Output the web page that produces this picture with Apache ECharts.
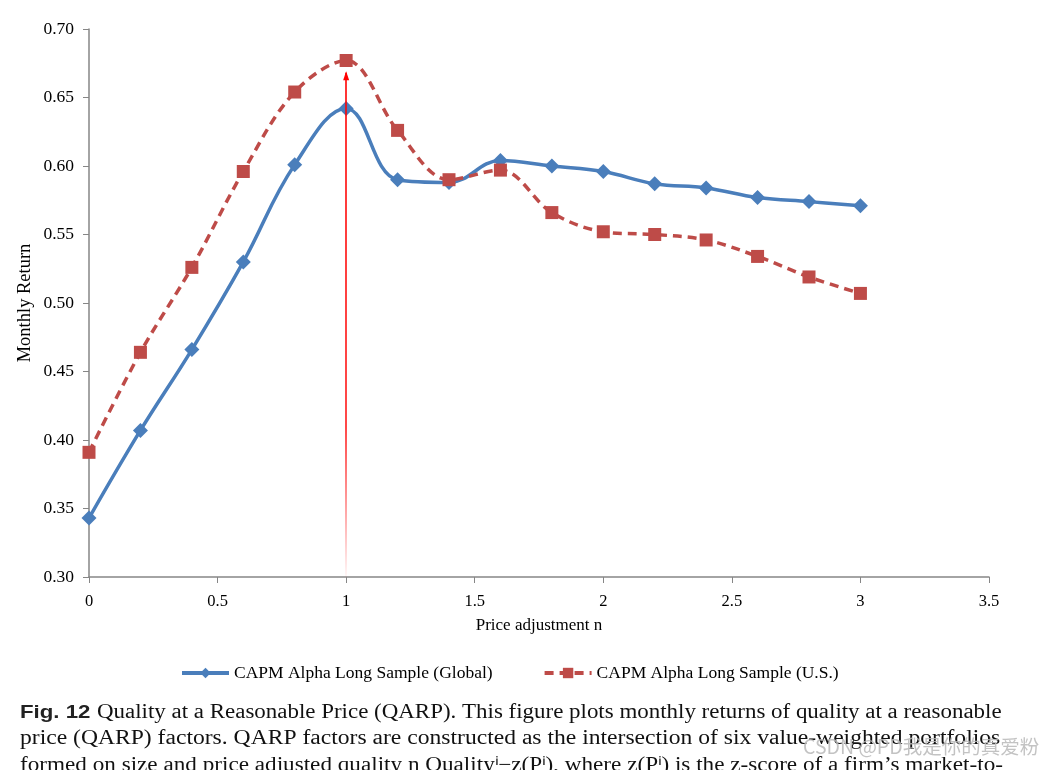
<!DOCTYPE html>
<html>
<head>
<meta charset="utf-8">
<script src="https://cdn.jsdelivr.net/npm/echarts@6/dist/echarts.min.js"></script>
<style>
html,body{margin:0;padding:0;background:#fff;}
#c{width:1041px;height:770px;}
</style>
</head>
<body>
<div id="c"></div>
<script>
var xValues = [0, 0.2, 0.4, 0.6, 0.8, 1.0, 1.2, 1.4, 1.6, 1.8, 2.0, 2.2, 2.4, 2.6, 2.8, 3.0];
var globalValues = [0.343, 0.407, 0.466, 0.530, 0.601, 0.642, 0.590, 0.588, 0.604, 0.600, 0.596, 0.587, 0.584, 0.577, 0.574, 0.571];
var usValues = [0.391, 0.464, 0.526, 0.596, 0.654, 0.677, 0.626, 0.590, 0.597, 0.566, 0.552, 0.550, 0.546, 0.534, 0.519, 0.507];
var seriesNames = ['CAPM Alpha Long Sample (Global)', 'CAPM Alpha Long Sample (U.S.)'];
var arrowX = 1;
var arrowFrom = 0.30;
var arrowTo = 0.668;
var xTitle = 'Price adjustment n';
var yTitle = 'Monthly Return';
var captionLines = [
  'Quality at a Reasonable Price (QARP). This figure plots monthly returns of quality at a reasonable',
  'price (QARP) factors. QARP factors are constructed as the intersection of six value-weighted portfolios',
  'formed on size and price adjusted quality n Quality\u2071\u2212z(P\u2071), where z(P\u2071) is the z-score of a firm\u2019s market-to-'
];
var figLabel = 'Fig. 12';
var watermark = 'CSDN @PD我是你的真爱粉';

function pairs(xs, ys){ return xs.map(function(x,i){ return [x, ys[i]]; }); }

var serif = 'Liberation Serif';
var chart = echarts.init(document.getElementById('c'), null, {renderer:'canvas'});
chart.setOption({
  animation: false,
  backgroundColor: '#ffffff',
  grid: {left: 89, right: 52, top: 29, bottom: 193, containLabel: false},
  legend: {
    top: 659, left: 175,
    itemWidth: 47, itemHeight: 13, itemGap: 50,
    lineStyle: {width: 4},
    textStyle: {fontFamily: serif, fontSize: 17.5, color: '#000'},
    data: seriesNames
  },
  xAxis: {
    type: 'value', min: 0, max: 3.5, interval: 0.5,
    name: xTitle, nameLocation: 'middle', nameGap: 40,
    nameTextStyle: {fontFamily: serif, fontSize: 17, color: '#000'},
    axisLine: {lineStyle: {color: '#868686', width: 1.5}},
    axisTick: {show: true, inside: false, length: 6, lineStyle: {color: '#868686'}},
    axisLabel: {fontFamily: serif, fontSize: 16.5, color: '#000', margin: 16},
    splitLine: {show: false}
  },
  yAxis: {
    type: 'value', min: 0.30, max: 0.70, interval: 0.05,
    name: yTitle, nameLocation: 'middle', nameGap: 54, nameMoveOverlap: false,
    nameTextStyle: {fontFamily: serif, fontSize: 18.5, color: '#000'},
    axisLine: {show: true, lineStyle: {color: '#868686', width: 1.5}},
    axisTick: {show: true, inside: false, length: 6, lineStyle: {color: '#868686'}},
    axisLabel: {fontFamily: serif, fontSize: 17.5, color: '#000', margin: 15,
      formatter: function(v){ return v.toFixed(2); }},
    splitLine: {show: false}
  },
  series: [
    {
      name: seriesNames[0], type: 'line', smooth: 0.4,
      data: pairs(xValues, globalValues),
      symbol: 'diamond', symbolSize: 15,
      itemStyle: {color: '#4a7ebb'},
      lineStyle: {color: '#4a7ebb', width: 3.5},
      z: 3,
      markLine: {
        silent: true,
        symbol: ['none', 'none'],
        label: {show: false},
        lineStyle: {
          type: 'solid', width: 1.6,
          color: {type: 'linear', x: 0, y: 0, x2: 0, y2: 1,
            colorStops: [{offset: 0, color: '#ff0000'}, {offset: 0.7, color: '#ff1a1a'}, {offset: 1, color: 'rgba(255,0,0,0.02)'}]}
        },
        data: [[{coord: [arrowX, arrowFrom]}, {coord: [arrowX, arrowTo]}]]
      },
      markPoint: {
        silent: true,
        symbol: 'triangle', symbolSize: [6, 9], symbolOffset: [0, 3],
        itemStyle: {color: '#ff0000'},
        label: {show: false},
        data: [{coord: [arrowX, arrowTo]}]
      }
    },
    {
      name: seriesNames[1], type: 'line', smooth: 0.35,
      data: pairs(xValues, usValues),
      symbol: 'rect', symbolSize: 13,
      itemStyle: {color: '#be4b48'},
      lineStyle: {color: '#be4b48', width: 3.5, type: [9, 6]},
      z: 4
    }
  ],
  graphic: [
    {type: 'text', x: 20, y: 703, scaleX: 1.17, style: {text: figLabel, font: 'bold 19px "Liberation Sans"', fill: '#222'}},
    {type: 'text', x: 97, y: 702, scaleX: 1.119, style: {text: captionLines[0], font: '20.5px "Liberation Serif"', fill: '#111'}},
    {type: 'text', x: 20, y: 728, scaleX: 1.151, style: {text: captionLines[1], font: '20.5px "Liberation Serif"', fill: '#111'}},
    {type: 'text', x: 20, y: 755, scaleX: 1.13, style: {text: captionLines[2], font: '20.5px "Liberation Serif"', fill: '#111'}},
    {type: 'text', x: 803, y: 737, z: 100, style: {text: watermark, font: '19.5px "Noto Sans CJK SC"', fill: 'rgba(185,185,185,0.85)'}}
  ]
});
</script>
</body>
</html>
